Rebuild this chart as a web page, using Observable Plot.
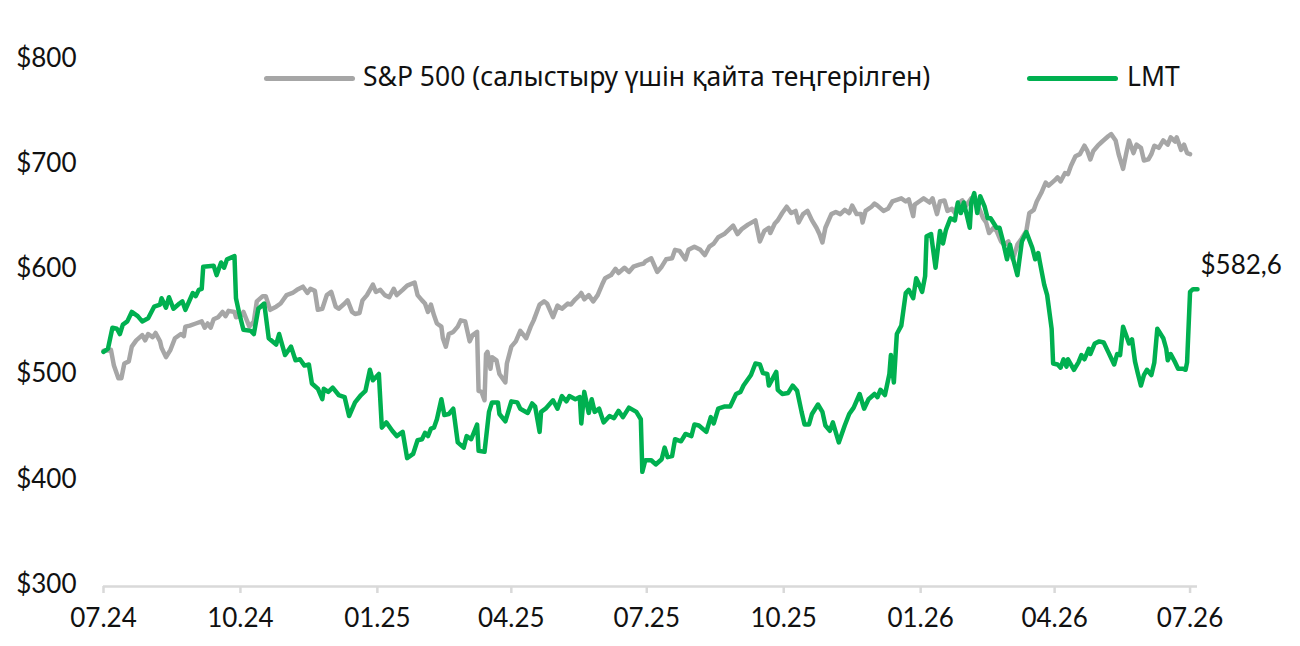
<!DOCTYPE html>
<html>
<head>
<meta charset="utf-8">
<script src="https://cdn.jsdelivr.net/npm/d3@7"></script>
<script src="https://cdn.jsdelivr.net/npm/@observablehq/plot@0.6"></script>
<style>
  html, body { margin: 0; padding: 0; background: #fff; }
  #wrap { position: relative; width: 1300px; height: 646px; overflow: hidden; }
  .lg-line { position: absolute; height: 5px; border-radius: 3px; }
  .lg-text { position: absolute; font-family: "Noto Sans", sans-serif; font-size: 26.5px; line-height: 30px; color: #111; white-space: nowrap; }
</style>
</head>
<body>
<div id="wrap"></div>
<script>
// Days since 2024-07-01 and closing values (USD)
const lmtDays = [0,3,6,9,11,13,16,19,23,26,30,34,38,39,42,44,47,51,53,55,60,62,64,66,67,74,76,79,81,83,88,89,91,94,99,101,104,108,111,116,118,122,126,129,132,135,138,140,144,147,148,151,154,158,162,165,169,173,176,179,181,185,187,190,194,197,201,204,208,211,214,216,218,220,222,224,227,229,232,235,238,242,244,247,251,252,256,259,261,265,266,270,274,278,280,285,288,290,293,294,297,302,305,308,311,313,317,320,321,323,326,328,330,333,336,340,343,346,349,353,358,361,362,364,368,371,375,377,379,382,384,388,391,395,397,400,405,408,410,413,417,421,425,428,430,435,438,441,443,446,447,452,453,456,460,463,466,469,471,474,476,480,483,485,488,490,494,498,501,504,508,511,514,518,520,522,525,528,529,531,533,536,539,541,544,546,548,550,552,553,556,559,562,564,566,569,572,574,576,578,582,583,585,587,589,592,594,596,600,602,604,607,609,611,614,617,620,624,626,628,629,632,634,637,638,641,643,645,647,648,652,655,657,659,662,663,666,669,672,675,679,681,683,685,687,689,691,693,695,697,699,701,704,706,708,712,714,715,717,720,722,725,727,728,730,732,735];
const lmtValues = [523,526,546,545,540,549,552,561,557,552,555,566,568,574,565,575,564,569,571,563,579,576,582,583,604,605,596,608,603,611,614,574,561,544,543,540,564,569,536,530,540,520,528,515,516,510,511,493,488,478,488,485,489,482,480,462,475,482,486,506,496,502,451,456,448,443,447,422,426,439,440,446,443,450,451,459,478,463,464,469,437,432,443,440,454,429,428,466,475,475,464,457,476,475,469,465,474,471,447,466,469,477,469,481,476,481,478,480,455,485,465,478,466,469,456,462,460,467,461,470,466,459,409,420,420,416,421,432,423,424,440,438,445,443,454,453,447,461,455,469,471,471,483,485,491,501,512,511,503,502,491,504,487,483,484,491,486,466,454,454,464,473,466,453,448,456,437,453,464,470,483,469,478,483,480,487,482,502,520,494,540,548,579,582,574,593,587,580,595,633,635,603,638,626,639,650,648,665,655,665,641,665,674,655,671,661,650,650,641,641,630,611,625,612,596,628,637,622,611,617,609,587,577,545,512,511,508,516,509,516,506,513,520,516,526,521,531,533,532,523,511,521,520,547,539,531,535,514,502,491,501,506,501,513,545,536,526,515,521,513,507,507,506,513,580,582.6,582.6];

const spxDays = [0,5,7,10,12,14,17,19,22,26,28,30,33,35,38,39,42,45,48,52,54,55,58,62,66,68,70,72,74,77,80,82,84,88,89,92,94,98,101,103,107,109,112,116,119,121,123,127,130,134,137,139,142,144,147,150,153,156,158,162,164,167,169,172,174,177,181,183,186,189,192,195,197,201,204,209,211,214,216,218,220,222,224,227,228,230,232,235,238,240,243,246,248,251,252,254,256,257,258,260,261,264,266,270,271,274,277,280,284,287,289,293,296,298,302,305,308,312,314,317,320,321,323,326,329,332,335,337,341,344,346,350,353,356,360,363,364,368,372,375,378,382,384,387,391,393,397,401,404,407,410,413,417,420,423,426,429,433,438,441,444,447,448,451,453,456,459,462,465,467,470,473,476,479,481,483,485,489,492,495,498,501,503,506,509,510,512,516,518,520,524,527,530,534,536,539,541,544,545,548,551,555,557,560,562,565,567,570,572,574,577,579,583,586,589,591,593,595,598,600,603,605,608,609,611,614,617,620,622,625,627,630,633,635,639,641,643,646,648,650,653,656,659,661,663,665,668,671,675,677,680,682,685,687,689,692,694,697,699,702,704,706,709,712,715,717,720,721,724,726,728,730];
const spxValues = [524,525,510,498,498,512,514,528,534,539,534,540,537,541,533,527,518,525,536,540,538,547,548,550,552,546,550,546,554,556,561,557,562,561,556,557,561,547,552,571,576,576,563,566,569,573,577,579,582,585,579,583,581,563,564,577,580,566,564,569,572,561,559,560,572,577,587,580,582,577,575,583,577,582,586,589,577,572,569,561,568,558,550,547,536,528,540,542,547,553,552,533,539,542,486,485,477,521,523,507,518,515,502,494,512,528,533,543,536,547,553,568,571,569,556,567,564,569,568,573,577,579,573,577,571,577,587,593,596,602,598,603,599,604,606,607,609,612,599,604,611,612,620,619,611,620,623,620,615,623,626,632,635,639,643,635,640,644,648,628,638,641,636,645,648,655,661,655,657,646,654,657,648,641,635,627,641,654,656,654,658,655,662,654,654,646,657,661,664,662,657,659,666,668,669,666,668,652,663,666,669,665,669,654,666,667,657,659,655,664,667,661,669,667,657,650,646,636,641,638,628,625,628,618,611,625,631,638,655,658,666,674,684,681,686,689,685,693,692,700,709,711,719,714,706,714,719,723,728,730,724,711,697,711,724,712,720,717,705,706,711,719,717,724,720,727,723,727,715,720,712,711];

const xTickDates = ["2024-07-01","2024-10-01","2025-01-01","2025-04-01","2025-07-01","2025-10-01","2026-01-01","2026-04-01","2026-07-01"];
const xTickLabels = ["07.24","10.24","01.25","04.25","07.25","10.25","01.26","04.26","07.26"];
const yTicks = [300,400,500,600,700,800];
const yTickLabels = ["$300","$400","$500","$600","$700","$800"];
const seriesNames = ["S&P 500 (салыстыру үшін қайта теңгерілген)", "LMT"];
const seriesColors = ["#a6a6a6", "#00b050"];
const lastLabel = "$582,6";

const start = new Date(Date.UTC(2024, 6, 1));
const toDate = d => d3.utcDay.offset(start, d);
const lmt = lmtDays.map((d, i) => ({date: toDate(d), value: lmtValues[i]}));
const spx = spxDays.map((d, i) => ({date: toDate(d), value: spxValues[i]}));
const xTicks = xTickDates.map(s => new Date(s + "T00:00:00Z"));
const xLabelMap = new Map(xTicks.map((d, i) => [+d, xTickLabels[i]]));
const endDate = lmt[lmt.length - 1].date;

const chart = Plot.plot({
  width: 1300,
  height: 646,
  marginLeft: 103,
  marginRight: 103,
  marginTop: 60,
  marginBottom: 60,
  style: {fontFamily: "Lato, 'Noto Sans', sans-serif", fontSize: "26px", background: "#fff", color: "#111"},
  x: {type: "utc", domain: [start, endDate], label: null},
  y: {domain: [300, 800], label: null},
  marks: [
    Plot.axisY({ticks: yTicks, tickFormat: d => yTickLabels[yTicks.indexOf(d)], tickSize: 0, tickPadding: 27, fontSize: 26, dy: -2, fill: "#111", label: null}),
    Plot.ruleY([300], {stroke: "#d9d9d9", strokeWidth: 2.5}),
    Plot.axisX({ticks: xTicks, tickFormat: d => xLabelMap.get(+d), tickSize: 7, tickPadding: 15, stroke: "#d9d9d9", strokeWidth: 2.5, fill: "#111", fontSize: 26, label: null}),
    Plot.line(spx, {x: "date", y: "value", stroke: seriesColors[0], strokeWidth: 4.5, strokeLinejoin: "round", strokeLinecap: "round"}),
    Plot.line(lmt, {x: "date", y: "value", stroke: seriesColors[1], strokeWidth: 4.5, strokeLinejoin: "round", strokeLinecap: "round"}),
    Plot.text([lmt[lmt.length - 1]], {x: "date", y: "value", text: () => lastLabel, textAnchor: "start", dx: 3, dy: -24, fontSize: 26, fill: "#111"})
  ]
});

const wrap = document.getElementById("wrap");
wrap.appendChild(chart);

// Legend overlay
const legendItems = [
  {name: seriesNames[0], color: seriesColors[0], lineLeft: 264, lineWidth: 91, textLeft: 363},
  {name: seriesNames[1], color: seriesColors[1], lineLeft: 1027, lineWidth: 91, textLeft: 1127}
];
legendItems.forEach(it => {
  const ln = document.createElement("div");
  ln.className = "lg-line";
  ln.style.left = it.lineLeft + "px";
  ln.style.top = "76px";
  ln.style.width = it.lineWidth + "px";
  ln.style.background = it.color;
  wrap.appendChild(ln);
  const tx = document.createElement("div");
  tx.className = "lg-text";
  tx.style.left = it.textLeft + "px";
  tx.style.top = "61px";
  tx.textContent = it.name;
  wrap.appendChild(tx);
});
</script>
</body>
</html>
